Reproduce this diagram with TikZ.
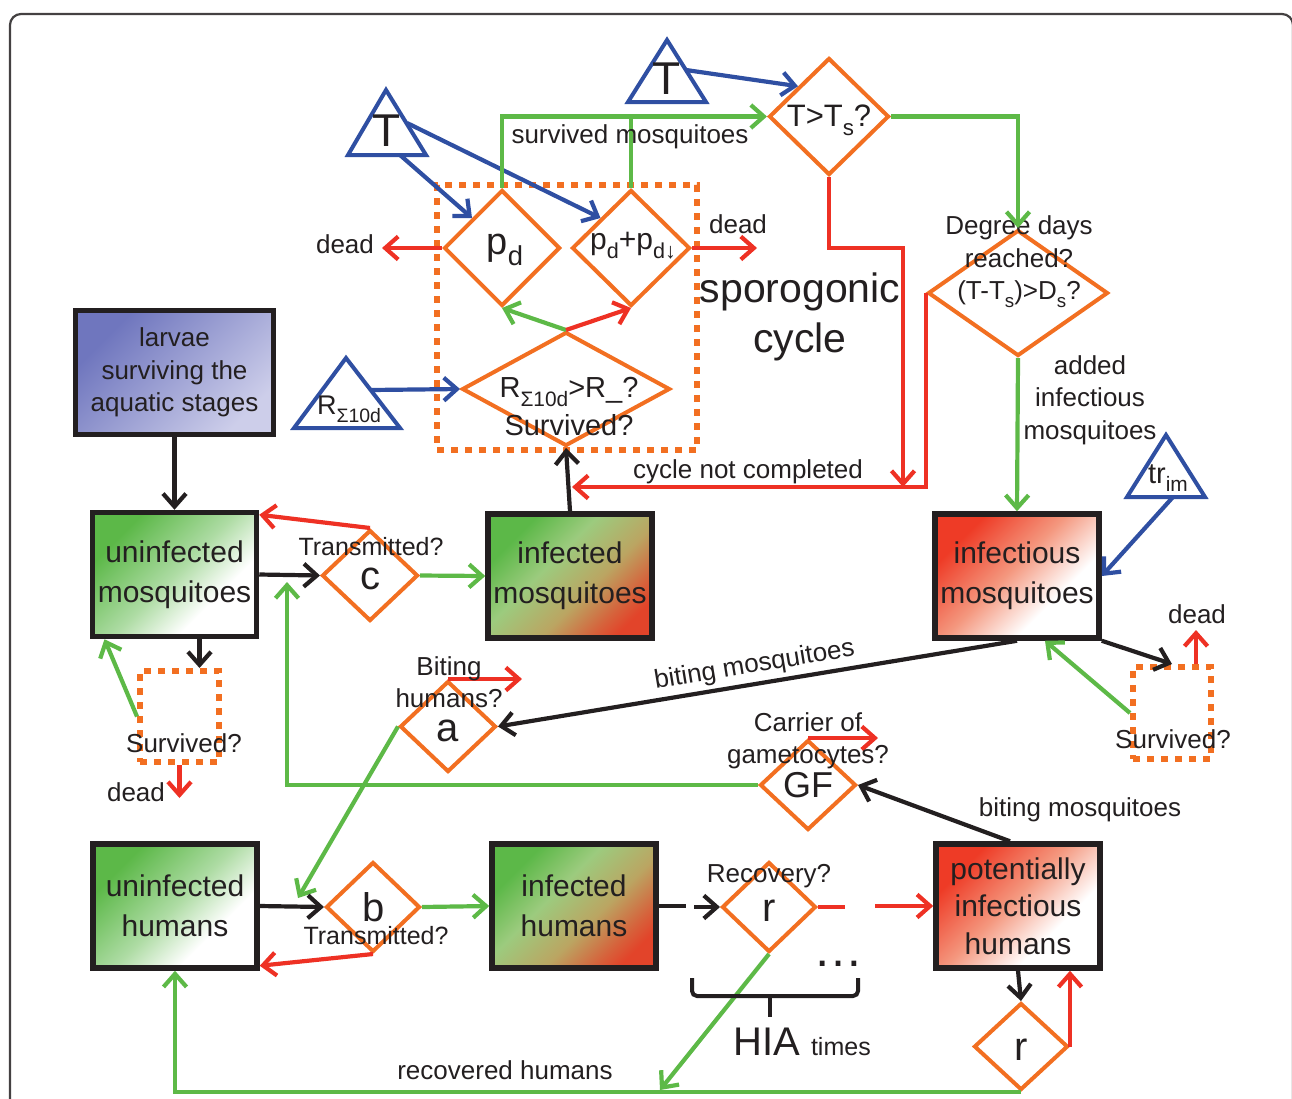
\documentclass[tikz,border=0pt]{standalone}
\usepackage{fontspec}
\usepackage{graphicx}
\setmainfont{Liberation Sans}
\usetikzlibrary{shapes.geometric,arrows.meta,calc}
\newcommand\myfs[2]{\fontsize{#1}{#2}\selectfont}
\newcommand\sbs[1]{\raisebox{-0.3em}{\scalebox{0.72}{#1}}}
\definecolor{cOr}{HTML}{F26F21}
\definecolor{cGr}{HTML}{5DB947}
\definecolor{cRd}{HTML}{EE3124}
\definecolor{cBl}{HTML}{2F4FA2}
\definecolor{cTx}{HTML}{231F20}
\definecolor{cGs}{HTML}{5CB848}
\definecolor{cLg}{HTML}{9CCB7E}
\definecolor{cOl}{HTML}{BBA562}
\definecolor{cRs}{HTML}{E2442A}
\definecolor{cRt}{HTML}{EE3B26}
\definecolor{cSa}{HTML}{F4977E}
\definecolor{cLa}{HTML}{6F76BE}
\definecolor{cLb}{HTML}{CDCEEA}
\pgfdeclarehorizontalshading{infsh}{100bp}{color(0bp)=(cGs); color(27bp)=(cGs); color(42bp)=(cLg); color(58bp)=(cOl); color(70bp)=(cRs!70!cOl); color(76bp)=(cRs); color(100bp)=(cRs)}
\pgfdeclarehorizontalshading{unsh}{100bp}{color(0bp)=(cGs); color(27bp)=(cGs); color(50bp)=(cGs!50!white); color(66bp)=(white); color(100bp)=(white)}
\pgfdeclarehorizontalshading{ifsh}{100bp}{color(0bp)=(cRt); color(27bp)=(cRt); color(47bp)=(cSa); color(65bp)=(white); color(100bp)=(white)}
\pgfdeclarehorizontalshading{lash}{100bp}{color(0bp)=(cLa); color(27bp)=(cLa); color(75bp)=(cLb); color(100bp)=(cLb)}
\tikzset{
  conn/.style={line width=4.2pt, line cap=butt, -{Straight Barb[length=13pt,width=23pt]}},
  lin/.style={line width=4.2pt},
  blk/.style={conn, draw=cTx},
  blkL/.style={lin, draw=cTx},
  grnA/.style={conn, draw=cGr},
  grnL/.style={lin, draw=cGr},
  redA/.style={conn, draw=cRd},
  redL/.style={lin, draw=cRd},
  bluA/.style={conn, draw=cBl},
  box/.style={draw=cTx, line width=5.5pt, minimum width=164pt, minimum height=124pt, inner sep=0pt, align=center, text=cTx, font=\myfs{30}{40}},
  shUn/.style={shading=unsh, shading angle=-45},
  shIn/.style={shading=infsh, shading angle=-45},
  shIf/.style={shading=ifsh, shading angle=-45},
  shLa/.style={shading=lash, shading angle=-45},
  dia/.style={diamond, draw=cOr, line width=4pt, inner sep=0pt, aspect=1},
  dotbox/.style={draw=cOr, line width=6pt, dash pattern=on 7pt off 7pt, inner sep=0pt},
  tri/.style={draw=cBl, line width=4pt, line join=miter},
  txt/.style={text=cTx, inner sep=0pt, align=center},
  lbl/.style={txt, font=\myfs{26}{32.5}},
}
\begin{document}
\begin{tikzpicture}[x=1pt,y=-1pt]
\useasboundingbox (0,0) rectangle (1292,1098);
\clip (0,0) rectangle (1292,1098);
% frame
\draw[cTx!85, line width=2.2pt, rounded corners=11pt] (10,14) rectangle (1293,1125);

% dotted boxes
\node[dotbox, minimum width=260pt, minimum height=265pt] (sp) at (567,317.5) {};
\node[dotbox, minimum width=79pt, minimum height=91pt] (sv1) at (179.5,716.5) {};
\node[dotbox, minimum width=78pt, minimum height=92pt] (sv2) at (1172,713) {};

% boxes
\node[box, shLa, minimum width=198pt, font=\myfs{26}{32.5}] (larvae) at (174.5,372.5) {larvae\\surviving the\\aquatic stages};
\node[box, shUn] (um) at (174.5,574.5) {uninfected\\mosquitoes};
\node[box, shIn] (im) at (570,576) {infected\\mosquitoes};
\node[box, shIf] (ifm) at (1017,576) {infectious\\mosquitoes};
\node[box, shUn] (uh) at (175,906) {uninfected\\humans};
\node[box, shIn] (ih) at (574,906) {infected\\humans};
\node[box, shIf, font=\myfs{30}{37.5}] (pih) at (1018,906) {potentially\\infectious\\humans};

% diamonds
\node[dia, minimum width=116pt, minimum height=116pt] (pd) at (502,248) {};
\node[dia, minimum width=118pt, minimum height=116pt] (pdd) at (631,248) {};
\node[dia, minimum width=120pt, minimum height=117pt] (tts) at (829,116.5) {};
\node[dia, minimum width=208pt, minimum height=114pt] (R) at (566,389) {};
\node[dia, minimum width=180pt, minimum height=126pt] (dd) at (1018,293) {};
\node[dia, minimum width=96pt, minimum height=91pt] (c) at (370,575.5) {};
\node[dia, minimum width=96pt, minimum height=91pt] (a) at (448,726.5) {};
\node[dia, minimum width=96pt, minimum height=90pt] (GF) at (808,785) {};
\node[dia, minimum width=94pt, minimum height=90pt] (b) at (373,907) {};
\node[dia, minimum width=94pt, minimum height=90pt] (r1) at (769,907) {};
\node[dia, minimum width=94pt, minimum height=87pt] (r2) at (1021,1046.5) {};

% diamond texts
\node[txt, font=\myfs{38}{40}] at (505,250) {p\sbs{d}};
\node[txt, font=\myfs{30}{34}] at (633,246) {p\sbs{d}+p\sbs{d↓}};
\node[txt, font=\myfs{31}{34}] at (829,120) {T>T\sbs{s}?};
\node[txt, font=\myfs{29}{38}] at (569,407) {R\sbs{Σ10d}>R\_?\\Survived?};
\node[lbl] at (1019,262) {Degree days\\reached?\\(T-T\sbs{s})>D\sbs{s}?};
\node[txt, font=\myfs{40}{40}] at (370,579) {c};
\node[txt, font=\myfs{40}{40}] at (448,731) {a};
\node[txt, font=\myfs{36}{40}] at (808,785) {GF};
\node[txt, font=\myfs{40}{40}] at (374,907) {b};
\node[txt, font=\myfs{40}{40}] at (769,911) {r};
\node[txt, font=\myfs{40}{40}] at (1021,1050) {r};

% triangles
\draw[tri] (386,90) -- (426,155) -- (348,155) -- cycle;
\node[txt, font=\myfs{46}{50}] (TLt) at (387,131) {T};
\coordinate (TL1) at (400,155);
\coordinate (TL2) at (407,123);
\draw[tri] (667,40) -- (706,102) -- (628,102) -- cycle;
\node[txt, font=\myfs{46}{50}] (TTt) at (667,79) {T};
\coordinate (TT1) at (686,70);
\draw[tri] (346,358) -- (400,428) -- (294,428) -- cycle;
\node[txt, font=\myfs{27}{30}] (TRt) at (349,409) {R\sbs{Σ10d}};
\coordinate (TR1) at (371,390);
\draw[tri] (1166,435) -- (1205,497) -- (1127,497) -- cycle;
\node[txt, font=\myfs{29}{30}] (Trt) at (1168,478) {tr\sbs{im}};
\coordinate (Tr1) at (1173,497);

% free-end coordinates
\coordinate (cnc) at (903,487);
\coordinate (cncEnd) at (572,487);
\coordinate (gfup) at (287,582);
\coordinate (bup) at (298,898);
\coordinate (recv) at (660,1090);
\coordinate (sv1top) at ([xshift=20pt]sv1.north);

% blue
\draw[bluA] (TL1) -- (pd.north west);
\draw[bluA] (TL2) -- (pdd.north west);
\draw[bluA] (TT1) -- (tts.north west);
\draw[bluA] (TR1) -- (R.west);
\draw[bluA] (Tr1) -- (ifm.east);

% green
\draw[grnA] (pd.north) |- (tts.west);
\draw[grnL] (pdd.north) -- (pdd.north |- tts.west);
\draw[grnA] (tts.east) -| (dd.north);
\draw[grnA] (dd.south) -- (ifm.north);
\draw[grnA] (R.north) -- (pd.south);
\draw[grnA] (c.east) -- (im.west);
\draw[grnA] (sv1.west) -- ([xshift=-70pt]um.south);
\draw[grnA] (sv2.west) -- ([xshift=28pt]ifm.south);
\draw[grnA] (GF.west) -| (gfup);
\draw[grnA] (a.west) -- (bup);
\draw[grnA] (b.east) -- (ih.west);
\draw[grnA] (r1.south) -- (recv);
\draw[grnA] (r2.south) -| (uh.south);

% red
\draw[redA] (pd.west) -- ++(-60,0);
\draw[redA] (pdd.east) -- ++(65,0);
\draw[redA] (R.north) -- (pdd.south);
\draw[redA] (tts.south) |- (903,248) -- (cnc);
\draw[redA] (dd.west) -- (dd.west |- cnc) -- (cncEnd);
\draw[redA] (c.north) -- ([yshift=-5pt]um.north east);
\draw[redA] (a.north) -- ++(74,0);
\draw[redA] (GF.north) -- ++(70,0);
\draw[redA] (sv1.south) -- ++(0,33);
\draw[redA] ([xshift=24pt]sv2.north) -- ++(0,-34);
\draw[redA] (b.south) -- ([yshift=5pt]uh.south east);
\draw[redL] (r1.east) -- ++(27,0);
\draw[redA] ([xshift=-58pt]pih.west) -- (pih.west);
\draw[redA] (r2.east) -- (r2.east |- pih.south);

% black
\draw[blk] (larvae.south) -- (um.north);
\draw[blk] (um.east) -- (c.west);
\draw[blk] (im.north) -- (R.south);
\draw[blk] (sv1top |- um.south) -- (sv1top);
\draw[blk] (ifm.south east) -- (sv2.north);
\draw[blk] (ifm.south) -- (a.east) node[midway, above=4pt, sloped, lbl] {biting mosquitoes};
\draw[blk] ([xshift=-8pt]pih.north) -- (GF.east);
\draw[blk] (uh.east) -- (b.west);
\draw[blkL] (ih.east) -- ++(27,0);
\draw[blk] ([xshift=-26pt]r1.west) -- (r1.west);
\draw[blk] (pih.south) -- (r2.north);

% brace
\draw[cTx, line width=4pt, rounded corners=5pt] (692,978) -- (692,996) -- (858,996) -- (858,978);
\draw[cTx, line width=4pt] (770,996) -- (770,1017);

% labels
\node[lbl] at (630,137) {survived mosquitoes};
\node[lbl] at (345,244) {dead};
\node[lbl] at (738,224) {dead};
\node[txt, font=\myfs{41}{50}] at (800,317) {sporogonic\\cycle};
\node[lbl] at (748,472) {cycle not completed};
\node[lbl] at (1090,400) {added\\infectious\\mosquitoes};
\node[lbl, font=\myfs{25}{30}] at (371,547) {Transmitted?};
\node[lbl] at (449,682) {Biting\\humans?};
\node[lbl] at (808,741) {Carrier of\\gametocytes?};
\node[lbl] at (1080,810) {biting mosquitoes};
\node[lbl] at (184,743) {Survived?};
\node[lbl] at (1173,739) {Survived?};
\node[lbl] at (136,792) {dead};
\node[lbl] at (1197,614) {dead};
\node[lbl, font=\myfs{25}{30}] at (376,936) {Transmitted?};
\node[lbl] at (769,876) {Recovery?};
\node[lbl] at (505,1070) {recovered humans};
\node[txt, font=\myfs{50}{50}] at (838,964) {…};
\node[txt, anchor=base] at (802,1055) {\myfs{40}{48}HIA {\myfs{25}{30}times}};
\end{tikzpicture}
\end{document}
